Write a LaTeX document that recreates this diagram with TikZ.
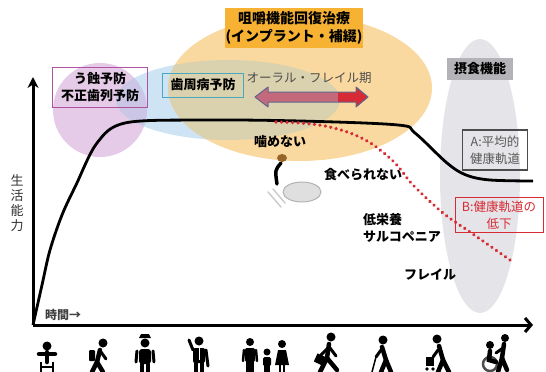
\documentclass[tikz,border=0pt]{standalone}
\usepackage{fontspec}
\setmainfont{Noto Sans CJK JP}
\usetikzlibrary{arrows.meta,%
		calc,%
		positioning}

\definecolor{peach}{RGB}{250,217,160}
\definecolor{skyblue}{RGB}{206,228,245}
\definecolor{tanmix}{RGB}{218,209,174}
\definecolor{lavender}{RGB}{229,203,231}
\definecolor{lilacmix}{RGB}{203,198,229}
\definecolor{fogray}{RGB}{229,229,233}
\definecolor{boxorange}{RGB}{247,178,52}
\definecolor{boxgray}{RGB}{180,180,184}
\definecolor{plum}{RGB}{176,82,160}
\definecolor{teal}{RGB}{72,168,190}
\definecolor{alarm}{RGB}{214,42,52}
\definecolor{rosearrow}{RGB}{196,104,124}
\definecolor{slatearrow}{RGB}{96,104,140}
\definecolor{hair}{RGB}{150,100,40}

\begin{document}
\begin{tikzpicture}[x=1pt,y=-1pt,font=\fontsize{13}{16}\selectfont,
  lbl/.style={inner sep=1pt,align=center},
  tag/.style={lbl,font=\bfseries\fontsize{13}{17}\selectfont},
  axis/.style={line width=3pt},
  ppl/.style={line width=4.5pt,line cap=round}]

  \useasboundingbox (0,0) rectangle (546,372);

  % soft areas behind the curve
  \fill[lavender] (100,110) circle (47);
  \fill[skyblue] (228,100) ellipse [x radius=112, y radius=40];
  \begin{scope}
    \clip (100,110) circle (47);
    \fill[lilacmix] (228,100) ellipse [x radius=112, y radius=40];
  \end{scope}
  \fill[peach] (300,88) ellipse [x radius=132, y radius=73];
  \begin{scope}
    \clip (300,88) ellipse [x radius=132, y radius=73];
    \fill[tanmix] (228,100) ellipse [x radius=112, y radius=40];
  \end{scope}
  \fill[fogray] (480,176) ellipse [x radius=40, y radius=137];

  % axes
  \coordinate (o) at (33,325);
  \coordinate (ytop) at (33,77);
  \coordinate (xend) at (533,325);
  \draw[axis,-{Stealth[length=11pt,width=11pt]}] (o) -- (ytop);
  \draw[axis,-{Straight Barb[length=6pt,width=14pt]}] (o) -- (xend);

  % A: average course
  \draw[line width=2.8pt,line join=round] plot[smooth,tension=0.55] coordinates {
    (33,325) (42,285) (50,250) (62,215) (76,185) (97,143) (125,123)
    (200,120) (300,121) (398,125) (415,133) (447,163) (466,175) (490,180) (533,181)};

  % B: declining course
  \draw[alarm,line width=3.6pt,line cap=round,dash pattern=on 0.01pt off 5.5pt]
    plot[smooth,tension=0.55] coordinates {
    (276,122) (300,123) (325,126) (350,133) (372,144) (395,163) (413,185)
    (443,213) (470,232) (510,260)};

  % oral frailty arrow
  \fill[rosearrow] (255,97) -- (268,87) -- (268,92) -- (356,92) -- (356,87) -- (368,97)
    -- (356,107) -- (356,102) -- (268,102) -- (268,107) -- cycle;
  \fill[alarm] (338,92) -- (356,92) -- (356,87) -- (368,97) -- (356,107) -- (356,102)
    -- (338,102) -- cycle;
  \draw[slatearrow,line width=1pt,line join=round] (255,97) -- (268,87) -- (268,92)
    -- (356,92) -- (356,87) -- (368,97) -- (356,107) -- (356,102) -- (268,102)
    -- (268,107) -- cycle;

  % labels
  \node[tag,fill=boxorange,minimum width=132,minimum height=40,
    font=\bfseries\fontsize{14}{18}\selectfont] (chiryo) at (294,28)
    {咀嚼機能回復治療\\(インプラント・補綴)};
  \node[tag,draw=plum,line width=1pt,minimum width=95,minimum height=40] (ushoku)
    at (100,87) {う蝕予防\\不正歯列予防};
  \node[tag,draw=teal,line width=1pt,minimum width=81,minimum height=24] (shishu)
    at (203,85) {歯周病予防};
  \node[lbl,text=black!70,font=\fontsize{12.5}{15}\selectfont] (frailki) at (309,78)
    {オーラル・フレイル期};
  \node[tag,fill=boxgray,minimum width=66,minimum height=22] (sesshoku)
    at (480,69) {摂食機能};
  \node[lbl,draw=black!70,line width=1.2pt,text=black!65,minimum width=65,
    minimum height=40,font=\fontsize{12.5}{17}\selectfont] (heikin) at (495,150)
    {A:平均的\\健康軌道};
  \node[lbl,draw=alarm,line width=1pt,text=alarm,minimum width=88,minimum height=35,
    font=\fontsize{12.5}{17}\selectfont] (teika) at (499,215) {B:健康軌道の\\低下};
  \node[tag] (kamenai) at (280,142) {噛めない};
  \node[tag] (taberarenai) at (363,175) {食べられない};
  \node[tag,align=left,anchor=west] (teieiyo) at (362,228) {低栄養\\サルコペニア};
  \node[tag] (frail) at (430,275) {フレイル};
  \node[lbl,anchor=west,text=black!75,font=\bfseries\fontsize{12}{14}\selectfont]
    (jikan) at (44,315) {時間→};
  \node[lbl,text=black!80,font=\fontsize{13}{15}\selectfont] (seikatsu) at (17,203)
    {生\\活\\能\\力};

  % eating at a plate
  \fill[gray!25] (302,192) ellipse [x radius=19, y radius=10];
  \draw[gray!60,line width=1pt] (302,192) ellipse [x radius=19, y radius=10];
  \draw[gray!40,line width=1.5pt,line cap=round] (268,192) -- (281,207);
  \draw[gray!40,line width=1.5pt,line cap=round] (273,189) -- (285,203);
  \draw[line width=3.5pt,line cap=round] (281,163) .. controls (275,170) .. (277,184);
  \fill[hair] (282,158) ellipse [x radius=5, y radius=4];

  % life stages
  % baby
  \fill (47,346) circle (4.5);
  \draw[ppl] (39,354) -- (55,354);
  \draw[ppl] (47,352) -- (47,362);
  \draw[line width=2pt] (41,362) -- (41,372) (53,362) -- (53,372) (41,367) -- (53,367);
  % school child
  \fill (103,343) circle (4.5);
  \fill[rounded corners=1pt] (89,350) rectangle (95,361);
  \draw[ppl] (100,350) -- (97,362);
  \draw[ppl] (97,362) -- (92,372) (97,362) -- (103,372);
  \draw[line width=3pt,line cap=round] (101,352) -- (106,359);
  % student
  \fill (139,338) -- (151,338) -- (149,334) -- (141,334) -- cycle;
  \fill (145,343) circle (4.5);
  \fill[rounded corners=3pt] (139,349) rectangle (151,364);
  \draw[line width=3pt,line cap=round] (137,351) -- (136,362) (153,351) -- (154,362);
  \draw[ppl] (142,364) -- (142,372) (148,364) -- (148,372);
  % office worker
  \fill (199,341) circle (4.5);
  \fill[rounded corners=2pt] (193,348) rectangle (205,363);
  \draw[line width=3pt,line cap=round] (193,350) -- (189,340) (206,350) -- (208,366);
  \draw[white,line width=1pt] (199,348) -- (199,360);
  \draw[ppl] (196,363) -- (196,372) (202,363) -- (202,372);
  % family
  \fill (250,342) circle (4);
  \fill[rounded corners=2pt] (245,348) rectangle (255,362);
  \draw[line width=2.5pt,line cap=round] (244,350) -- (243,361) (256,350) -- (257,361);
  \draw[ppl,line width=4pt] (248,362) -- (248,372) (252,362) -- (252,372);
  \fill (267,352) circle (3.5);
  \fill[rounded corners=1.5pt] (263,357) rectangle (271,366);
  \draw[line width=3pt] (265.5,366) -- (265.5,372) (268.5,366) -- (268.5,372);
  \fill (282,344) circle (4);
  \fill (278,350) -- (286,350) -- (289,365) -- (275,365) -- cycle;
  \draw[line width=2.5pt] (280,365) -- (280,372) (284,365) -- (284,372);
  % commuter
  \fill (331,337) circle (4.5);
  \draw[ppl] (329,344) -- (327,358);
  \draw[ppl] (327,358) -- (320,372) (327,358) -- (337,370);
  \draw[line width=3pt,line cap=round] (328,348) -- (321,355) (330,348) -- (336,356);
  \fill[rotate around={-25:(320,360)}] (315,355) rectangle (325,364);
  % elder with cane
  \fill (383,340) circle (4.5);
  \draw[ppl] (382,347) -- (386,360);
  \draw[ppl] (386,360) -- (381,372) (386,360) -- (391,372);
  \draw[line width=3pt,line cap=round] (381,350) -- (376,357);
  \draw[line width=1.5pt] (376,357) -- (372,372);
  % elder with walker
  \fill (437,339) circle (4.5);
  \draw[ppl] (439,346) -- (443,360);
  \draw[ppl] (443,360) -- (438,372) (443,360) -- (449,372);
  \draw[line width=3pt,line cap=round] (438,350) -- (433,357);
  \fill (426,357) rectangle (434,366);
  \fill (427,369) circle (1.8) (433,369) circle (1.8);
  % wheelchair
  \draw[black!70,line width=2.5pt] (490,364) circle (7);
  \fill (490,345) circle (4);
  \draw[ppl] (490,351) -- (489,360) -- (496,362);
  \fill (505,338) circle (4);
  \draw[ppl] (504,344) -- (502,358);
  \draw[ppl] (502,358) -- (498,372) (502,358) -- (507,370);
  \draw[line width=3pt,line cap=round] (503,348) -- (496,353);

\end{tikzpicture}
\end{document}
